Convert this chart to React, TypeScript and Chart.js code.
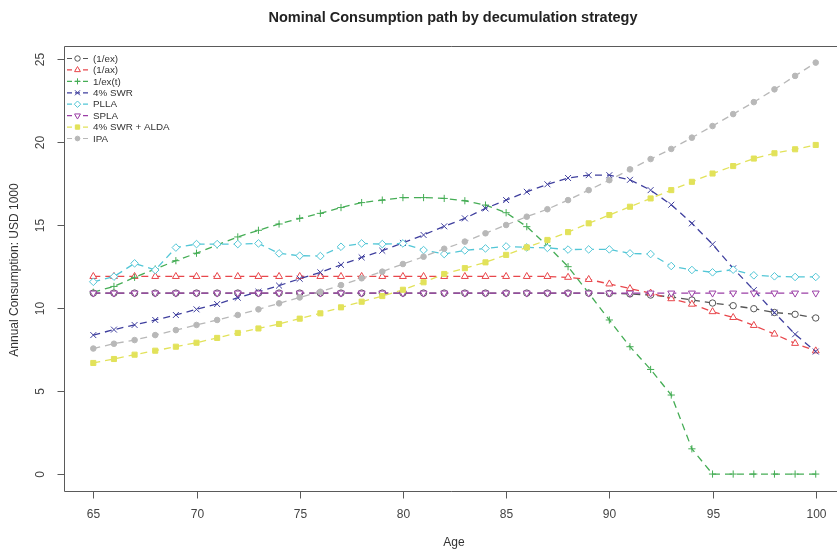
import React, { useEffect, useRef } from 'react';
import { Chart, registerables } from 'chart.js';
import { drawPoint } from 'chart.js/helpers';

Chart.register(...registerables);

const TITLE = 'Nominal Consumption path by decumulation strategy';
const X_TITLE = 'Age';
const Y_TITLE = 'Annual Consumption: USD 1000';

const ages = [65, 66, 67, 68, 69, 70, 71, 72, 73, 74, 75, 76, 77, 78, 79, 80, 81, 82, 83, 84, 85, 86, 87, 88, 89, 90, 91, 92, 93, 94, 95, 96, 97, 98, 99, 100];
const xTicks = [65, 70, 75, 80, 85, 90, 95, 100];
const yTicks = [0, 5, 10, 15, 20, 25];

const seriesNames = ['(1/ex)', '(1/ax)', '1/ex(t)', '4% SWR', 'PLLA', 'SPLA', '4% SWR + ALDA', 'IPA'];

const invEx = [10.9, 10.9, 10.9, 10.9, 10.9, 10.9, 10.9, 10.9, 10.9, 10.9, 10.9, 10.9, 10.9, 10.9, 10.9, 10.9, 10.9, 10.9, 10.9, 10.9, 10.9, 10.9, 10.9, 10.9, 10.9, 10.88, 10.85, 10.78, 10.67, 10.48, 10.3, 10.14, 9.96, 9.73, 9.62, 9.4];
const invAx = [11.9, 11.9, 11.9, 11.9, 11.9, 11.9, 11.9, 11.9, 11.9, 11.9, 11.9, 11.9, 11.9, 11.9, 11.9, 11.9, 11.9, 11.9, 11.9, 11.9, 11.9, 11.9, 11.9, 11.85, 11.72, 11.45, 11.17, 10.9, 10.56, 10.23, 9.78, 9.43, 8.95, 8.43, 7.87, 7.42];
const invExT = [10.95, 11.3, 11.85, 12.35, 12.85, 13.3, 13.8, 14.28, 14.68, 15.06, 15.4, 15.7, 16.05, 16.35, 16.5, 16.65, 16.65, 16.6, 16.46, 16.2, 15.74, 14.9, 13.75, 12.49, 10.9, 9.28, 7.67, 6.3, 4.76, 1.52, 0, 0, 0, 0, 0, 0];
const swr4 = [8.37, 8.7, 8.98, 9.28, 9.58, 9.92, 10.24, 10.62, 10.98, 11.35, 11.76, 12.15, 12.6, 13.05, 13.45, 13.92, 14.4, 14.92, 15.4, 16.0, 16.5, 17.0, 17.45, 17.83, 18.0, 18.0, 17.72, 17.1, 16.22, 15.1, 13.84, 12.39, 11.08, 9.72, 8.42, 7.38];
const plla = [11.58, 11.89, 12.69, 12.29, 13.64, 13.85, 13.85, 13.85, 13.89, 13.29, 13.15, 13.13, 13.69, 13.89, 13.85, 13.89, 13.49, 13.25, 13.47, 13.59, 13.71, 13.65, 13.62, 13.52, 13.53, 13.53, 13.29, 13.25, 12.53, 12.29, 12.15, 12.31, 11.97, 11.91, 11.87, 11.87];
const spla = [10.9, 10.9, 10.9, 10.9, 10.9, 10.9, 10.9, 10.9, 10.9, 10.9, 10.9, 10.9, 10.9, 10.9, 10.9, 10.9, 10.9, 10.9, 10.9, 10.9, 10.9, 10.9, 10.9, 10.9, 10.9, 10.9, 10.9, 10.9, 10.9, 10.9, 10.9, 10.9, 10.9, 10.9, 10.9, 10.9];
const swrAlda = [6.69, 6.93, 7.19, 7.43, 7.67, 7.91, 8.2, 8.5, 8.77, 9.04, 9.36, 9.68, 10.04, 10.38, 10.72, 11.1, 11.55, 12.05, 12.4, 12.75, 13.2, 13.65, 14.1, 14.57, 15.1, 15.6, 16.1, 16.6, 17.1, 17.6, 18.1, 18.55, 19.0, 19.32, 19.56, 19.82];
const ipa = [7.56, 7.85, 8.07, 8.37, 8.67, 8.98, 9.28, 9.58, 9.92, 10.28, 10.64, 10.98, 11.38, 11.79, 12.19, 12.65, 13.09, 13.57, 14.0, 14.5, 15.0, 15.5, 15.95, 16.5, 17.1, 17.7, 18.35, 18.97, 19.58, 20.26, 20.96, 21.68, 22.4, 23.17, 23.98, 24.78];

const seriesValues = [invEx, invAx, invExT, swr4, plla, spla, swrAlda, ipa];
const seriesColors = ['#555555', '#e8474c', '#45ad55', '#3f3f9e', '#52c6d6', '#9b3fa6', '#e2e25a', '#b8b8b8'];
const seriesMarkers = ['circle', 'triangle', 'cross', 'crossRot', 'rectRot', 'triangle', 'rect', 'circle'];
const markerRotation = [0, 0, 0, 0, 0, 180, 0, 0];
const markerRadius = [3.2, 4, 3.6, 4.2, 3.8, 4, 3.6, 2.8];
const markerFilled = [false, false, false, false, false, false, true, true];

const FONT = '"Liberation Sans", Arial, Helvetica, sans-serif';
const DASH = [7, 5];

const rAxesPlugin = {
  id: 'rAxes',
  afterDraw(chart: any) {
    const { ctx, chartArea: ca, scales } = chart;
    const xs = scales.x;
    const ys = scales.y;
    const left = Math.round(ca.left) + 0.5;
    const top = Math.round(ca.top) + 0.5;
    const bottom = Math.round(ca.bottom) + 0.5;
    ctx.save();
    ctx.strokeStyle = '#5a5a5a';
    ctx.lineWidth = 1;
    ctx.setLineDash([]);
    ctx.beginPath();
    ctx.moveTo(chart.width + 2, top);
    ctx.lineTo(left, top);
    ctx.lineTo(left, bottom);
    ctx.lineTo(chart.width + 2, bottom);
    ctx.stroke();

    // x ticks
    ctx.fillStyle = '#444';
    ctx.font = `12px ${FONT}`;
    ctx.textAlign = 'center';
    ctx.textBaseline = 'middle';
    xTicks.forEach((t) => {
      const px = Math.round(xs.getPixelForValue(t)) + 0.5;
      ctx.beginPath();
      ctx.moveTo(px, bottom);
      ctx.lineTo(px, bottom + 7);
      ctx.stroke();
      ctx.fillText(String(t), px, bottom + 23);
    });
    // y ticks (rotated labels)
    yTicks.forEach((t) => {
      const py = Math.round(ys.getPixelForValue(t)) + 0.5;
      ctx.beginPath();
      ctx.moveTo(left, py);
      ctx.lineTo(left - 7, py);
      ctx.stroke();
      ctx.save();
      ctx.translate(left - 24, py);
      ctx.rotate(-Math.PI / 2);
      ctx.fillText(String(t), 0, 0);
      ctx.restore();
    });

    // axis titles
    ctx.fillStyle = '#333';
    ctx.font = `12px ${FONT}`;
    ctx.fillText(X_TITLE, 454, 543);
    ctx.save();
    ctx.translate(15, 270);
    ctx.rotate(-Math.PI / 2);
    ctx.fillText(Y_TITLE, 0, 0);
    ctx.restore();

    // main title
    ctx.fillStyle = '#222';
    ctx.font = `bold 14.5px ${FONT}`;
    ctx.fillText(TITLE, 453, 18);

    // legend
    ctx.font = `9.8px ${FONT}`;
    ctx.textAlign = 'left';
    seriesNames.forEach((name, i) => {
      const y = 58.5 + i * 11.43;
      const color = seriesColors[i];
      ctx.strokeStyle = color;
      ctx.lineWidth = 1.2;
      ctx.setLineDash([5, 3]);
      ctx.beginPath();
      ctx.moveTo(67, y);
      ctx.lineTo(88, y);
      ctx.stroke();
      ctx.setLineDash([]);
      ctx.lineWidth = 1;
      ctx.fillStyle = markerFilled[i] ? color : '#ffffff';
      drawPoint(ctx, {
        pointStyle: seriesMarkers[i],
        rotation: markerRotation[i],
        radius: markerRadius[i] * 0.85,
        borderWidth: 1,
      } as any, 77.5, y);
      ctx.fillStyle = '#333';
      ctx.fillText(name, 93, y + 0.5);
    });
    ctx.restore();
  },
};

export default function App() {
  const canvasRef = useRef<HTMLCanvasElement | null>(null);

  useEffect(() => {
    const canvas = canvasRef.current;
    if (!canvas) return;
    const datasets = seriesNames.map((name, i) => ({
      label: name,
      data: ages.map((a, j) => ({ x: a, y: seriesValues[i][j] })),
      borderColor: seriesColors[i],
      backgroundColor: seriesColors[i],
      borderWidth: 1.3,
      borderDash: DASH,
      pointStyle: seriesMarkers[i] as any,
      pointRotation: markerRotation[i],
      pointRadius: markerRadius[i],
      pointBorderWidth: 1,
      pointBorderColor: seriesColors[i],
      pointBackgroundColor: markerFilled[i] ? seriesColors[i] : '#ffffff',
      tension: 0,
      fill: false,
      order: seriesNames.length - i,
    }));

    const chart = new Chart(canvas, {
      type: 'line',
      data: { datasets },
      options: {
        responsive: false,
        animation: false,
        devicePixelRatio: 1,
        layout: { autoPadding: false, padding: { left: 64, top: 45.5, right: 0, bottom: 59.5 } },
        scales: {
          x: { type: 'linear', min: 63.58, max: 101.03, display: false },
          y: { type: 'linear', min: -0.99, max: 25.81, display: false },
        },
        plugins: {
          legend: { display: false },
          title: { display: false },
          tooltip: { enabled: false },
        },
      },
      plugins: [rAxesPlugin],
    });
    return () => chart.destroy();
  }, []);

  return (
    <div style={{ position: 'absolute', left: 0, top: 0, width: 837, height: 550, background: '#fff' }}>
      <canvas ref={canvasRef} width={837} height={550} style={{ display: 'block' }} />
    </div>
  );
}
